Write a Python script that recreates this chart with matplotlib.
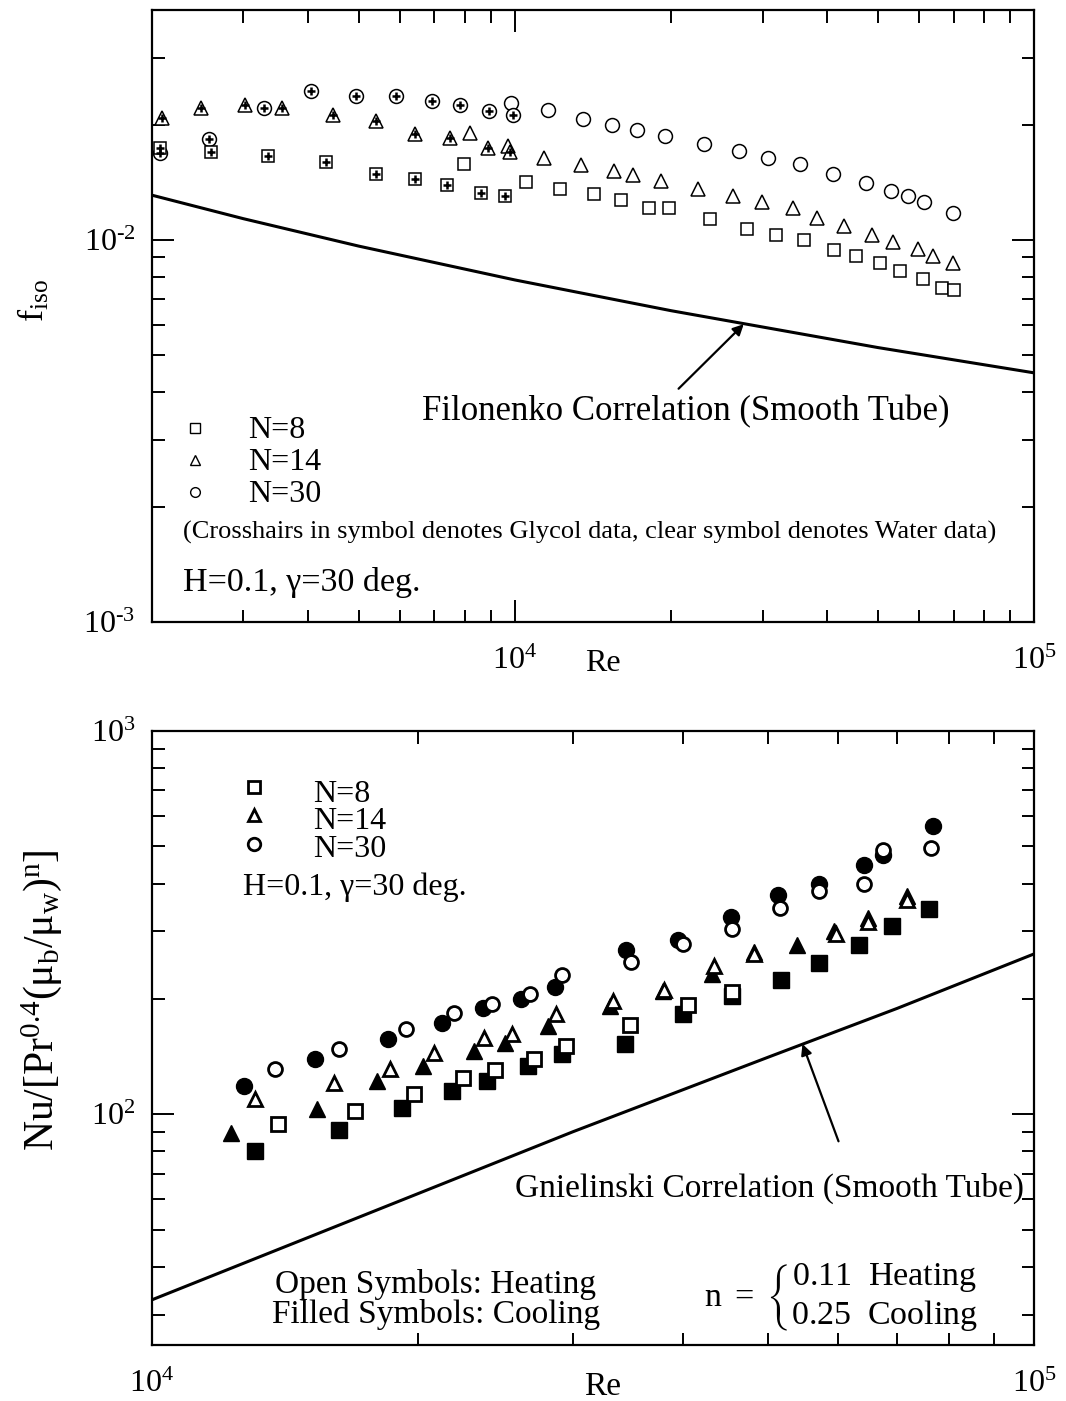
import matplotlib
matplotlib.use("Agg")
import numpy as np
import matplotlib.pyplot as plt
from matplotlib.ticker import NullFormatter, FuncFormatter

plt.rcParams['font.family'] = ['Liberation Serif', 'DejaVu Serif']
plt.rcParams['mathtext.fontset'] = 'custom'
plt.rcParams['mathtext.rm'] = 'Liberation Serif'
plt.rcParams['mathtext.it'] = 'Liberation Serif:italic'
plt.rcParams['mathtext.default'] = 'regular'
plt.rcParams['mathtext.fallback'] = 'stix'
plt.rcParams['axes.unicode_minus'] = False

# ---- top panel: isothermal friction factor ----
gly_sq_re = [2070, 2600, 3340, 4330, 5410, 6410, 7390, 8600, 9570]
gly_sq_f = [0.0174, 0.0170, 0.0166, 0.0160, 0.0149, 0.0144, 0.0139, 0.0133, 0.0130]
gly_tri_re = [2090, 2490, 3020, 3560, 4470, 5410, 6430, 7490, 8870, 9780]
gly_tri_f = [0.0208, 0.0221, 0.0225, 0.0221, 0.0212, 0.0205, 0.0190, 0.0185, 0.0174, 0.0170]
gly_cir_re = [2070, 2570, 3280, 4050, 4950, 5910, 6910, 7830, 8910, 9910]
gly_cir_f = [0.0169, 0.0184, 0.0221, 0.0245, 0.0238, 0.0238, 0.0231, 0.0225, 0.0217, 0.0213]

wat_sq_re = [7970, 10500, 12200, 14200, 16000, 18100, 19800, 23800, 28000, 31800,
             36100, 41200, 45500, 50400, 55100, 61000, 66400, 70000]
wat_sq_f = [0.0158, 0.0142, 0.0136, 0.0132, 0.0127, 0.0121, 0.0121, 0.01135, 0.0107, 0.0103,
            0.0100, 0.0094, 0.0091, 0.0087, 0.0083, 0.0079, 0.0075, 0.0074]
wat_tri_re = [8190, 9690, 11400, 13400, 15500, 16900, 19100, 22500, 26300, 29900,
              34300, 38200, 43100, 48800, 53400, 59700, 63800, 69700]
wat_tri_f = [0.0191, 0.0176, 0.0164, 0.0157, 0.0152, 0.0148, 0.0143, 0.0136, 0.0130, 0.0126,
             0.0121, 0.0114, 0.0109, 0.0103, 0.0099, 0.0095, 0.0091, 0.0087]
wat_cir_re = [9820, 11600, 13500, 15400, 17200, 19500, 23100, 27000, 30700, 35400,
              41000, 47500, 53100, 57300, 61300, 69700]
wat_cir_f = [0.0228, 0.0219, 0.0207, 0.0200, 0.0194, 0.0187, 0.0178, 0.0171, 0.0164, 0.0158,
             0.0149, 0.0141, 0.0134, 0.0130, 0.0126, 0.0118]

filo_re = [2000, 3000, 5000, 10000, 20000, 50000, 100000]
filo_f = [0.0131, 0.01137, 0.00964, 0.00786, 0.00653, 0.00523, 0.00449]

# ---- bottom panel: Nusselt number ----
n8_heat_re = [13900, 17000, 19800, 22500, 24500, 27100, 29500, 34800, 40500, 45400]
n8_heat = [94.1, 101.8, 112.8, 124.2, 130.3, 139.3, 150.7, 171, 192.9, 208.6]
n8_cool_re = [13100, 16300, 19200, 21900, 24000, 26700, 29200, 34400, 40000, 45400,
              51700, 57100, 63400, 69000, 76000]
n8_cool = [80, 90.8, 103.7, 114.9, 122, 133.6, 143.6, 152.5, 182.7, 203.7,
           224.3, 248.5, 277, 310.5, 344.1]

n14_heat_re = [13100, 16100, 18600, 20900, 23800, 25600, 28700, 33300, 38100, 43400,
               48200, 59600, 64900, 71700]
n14_heat = [109.5, 120.6, 131.2, 144.4, 158.1, 162, 182.7, 197.6, 211.1, 244,
            262.4, 296, 318.2, 363.3]
n14_cool_re = [12300, 15400, 18000, 20300, 23200, 25100, 28100, 33100, 38000, 43200,
               48200, 53900, 59400, 64900, 71700]
n14_cool = [89.2, 103.1, 122, 133.6, 146.2, 153.4, 170, 191.8, 209.9, 232.5,
            265.6, 277, 301.4, 326, 372.2]

n30_heat_re = [13800, 16300, 19400, 22000, 24300, 26800, 29200, 34900, 40000, 45500,
               51500, 57100, 64100, 67500, 76400]
n30_heat = [131.2, 148, 166.9, 183.8, 194.1, 206.1, 231.1, 250, 278.6, 305,
            346.2, 381.3, 400, 488, 494]
n30_cool_re = [12700, 15300, 18500, 21300, 23700, 26200, 28600, 34500, 39500, 45300,
               51300, 57100, 64100, 67500, 76800]
n30_cool = [118.4, 139.3, 157.1, 173, 189.5, 200, 215, 268.8, 285.5, 328,
            374.4, 400, 445.9, 473.6, 564]

gn_re = [10000, 20000, 30000, 50000, 70000, 100000]
gn_nu = [32.8, 62, 90, 141, 189, 262]

W, H = 1066, 1401
fig = plt.figure(figsize=(W / 100, H / 100), dpi=100)
ax1 = fig.add_axes([152 / W, 1 - 622 / H, 882 / W, 612 / H])
ax2 = fig.add_axes([152 / W, 1 - 1345 / H, 882 / W, 614 / H])


def pow10(v, pos):
    e = str(int(round(np.log10(v))))
    return r'$10^{%s}$' % e.replace('-', r'\text{-}')


def style(ax):
    ax.set_xscale('log')
    ax.set_yscale('log')
    ax.tick_params(which='both', direction='in', top=True, right=True,
                   width=1.4, labelsize=23)
    ax.tick_params(which='major', length=16)
    ax.tick_params(which='minor', length=9)
    ax.tick_params(axis='x', which='major', pad=18)
    ax.tick_params(axis='y', which='major', pad=12)
    ax.xaxis.set_major_formatter(FuncFormatter(pow10))
    ax.yaxis.set_major_formatter(FuncFormatter(pow10))
    ax.xaxis.set_minor_formatter(NullFormatter())
    ax.yaxis.set_minor_formatter(NullFormatter())
    for sp in ax.spines.values():
        sp.set_linewidth(1.6)


style(ax1)
style(ax2)

# top panel
kw = dict(ls='none', mfc='white', mec='black', mew=1.1)
ax1.plot(wat_sq_re, wat_sq_f, marker='s', ms=9, **kw)
ax1.plot(wat_tri_re, wat_tri_f, marker='^', ms=10.5, **kw)
ax1.plot(wat_cir_re, wat_cir_f, marker='o', ms=10, **kw)
ax1.plot(gly_cir_re, gly_cir_f, marker='o', ms=10, **kw)
ax1.plot(gly_sq_re, gly_sq_f, marker='s', ms=9, **kw)
ax1.plot(gly_tri_re, gly_tri_f, marker='^', ms=10.5, **kw)
for re, f in [(gly_sq_re, gly_sq_f), (gly_tri_re, gly_tri_f), (gly_cir_re, gly_cir_f)]:
    ax1.plot(re, f, ls='none', marker='+', ms=5.5, mew=1.8, color='black')
ax1.plot(filo_re, filo_f, color='black', lw=2.2)

ax1.set_xlim(2000, 1e5)
ax1.set_ylim(1e-3, 0.04)

ax1.annotate('', xy=(27600, 0.00602), xytext=(20670, 0.00408),
             arrowprops=dict(arrowstyle='-|>', color='black', lw=1.6,
                             mutation_scale=16, shrinkA=0, shrinkB=0))
ax1.text(0.605, 0.33, 'Filonenko Correlation (Smooth Tube)', transform=ax1.transAxes,
         ha='center', va='baseline', fontsize=25)

for i, (mk, lab) in enumerate([('s', 'N=8'), ('^', 'N=14'), ('o', 'N=30')]):
    yb = 0.3006 - i * 0.0523
    ax1.plot([0.049], [yb + 0.016], transform=ax1.transAxes, marker=mk, ms=7,
             mfc='white', mec='black', mew=1.0, ls='none', clip_on=False)
    ax1.text(0.109, yb, lab, transform=ax1.transAxes, fontsize=23, va='baseline')
ax1.text(0.035, 0.137,
         '(Crosshairs in symbol denotes Glycol data, clear symbol denotes Water data)',
         transform=ax1.transAxes, fontsize=19, va='baseline')
ax1.text(0.035, 0.0507, 'H=0.1, γ=30 deg.', transform=ax1.transAxes,
         fontsize=24.5, va='baseline')
ax1.text(0.511, -0.08, 'Re', transform=ax1.transAxes, fontsize=23,
         ha='center', va='baseline')
ax1.set_ylabel(r'$\mathregular{f_{iso}}$', fontsize=26)
ax1.yaxis.set_label_coords(-0.113, 0.5245)

# bottom panel
okw = dict(ls='none', mfc='white', mec='black', mew=2.0)
fkw = dict(ls='none', color='black', mec='black')
ax2.plot(n8_cool_re, n8_cool, marker='s', ms=11, **fkw)
ax2.plot(n14_cool_re, n14_cool, marker='^', ms=12, **fkw)
ax2.plot(n30_cool_re, n30_cool, marker='o', ms=11.5, **fkw)
ax2.plot(n8_heat_re, n8_heat, marker='s', ms=9.5, **okw)
ax2.plot(n14_heat_re, n14_heat, marker='^', ms=10.5, **okw)
ax2.plot(n30_heat_re, n30_heat, marker='o', ms=10, **okw)
ax2.plot(gn_re, gn_nu, color='black', lw=2.2)

ax2.set_xlim(1e4, 1e5)
ax2.set_ylim(25, 1000)

ax2.annotate('', xy=(54640, 152.5), xytext=(60030, 85.0),
             arrowprops=dict(arrowstyle='-|>', color='black', lw=1.6,
                             mutation_scale=16, shrinkA=0, shrinkB=0))
ax2.text(0.9887, 0.241, 'Gnielinski Correlation (Smooth Tube)', transform=ax2.transAxes,
         ha='right', va='baseline', fontsize=24)
ax2.text(0.3215, 0.0847, 'Open Symbols: Heating', transform=ax2.transAxes,
         ha='center', va='baseline', fontsize=24)
ax2.text(0.3215, 0.0358, 'Filled Symbols: Cooling', transform=ax2.transAxes,
         ha='center', va='baseline', fontsize=24)
ax2.text(0.626, 0.0765,
         r'$\mathrm{n\ =\ }\left\{\genfrac{}{}{0}{0}{\mathrm{0.11\ \ Heating}}{\mathrm{0.25\ \ Cooling}}\right.$',
         transform=ax2.transAxes, ha='left', va='center', fontsize=24.5)

for i, (mk, lab) in enumerate([('s', 'N=8'), ('^', 'N=14'), ('o', 'N=30')]):
    ax2.plot([0.1156], [0.9088 - i * 0.0464], transform=ax2.transAxes, marker=mk, ms=9,
             mfc='white', mec='black', mew=2.0, ls='none', clip_on=False)
    ax2.text(0.1825, 0.8844 - i * 0.0448, lab, transform=ax2.transAxes,
             fontsize=23, va='baseline')
ax2.text(0.103, 0.7329, 'H=0.1, γ=30 deg.', transform=ax2.transAxes,
         fontsize=23, va='baseline')
ax2.text(0.511, -0.081, 'Re', transform=ax2.transAxes, fontsize=24,
         ha='center', va='baseline')
ax2.set_ylabel(r'$\mathregular{Nu/[Pr^{0.4}(μ_b/μ_w)^n]}$', fontsize=30)
ax2.yaxis.set_label_coords(-0.1, 0.562)

fig.savefig('out.png', dpi=100)
